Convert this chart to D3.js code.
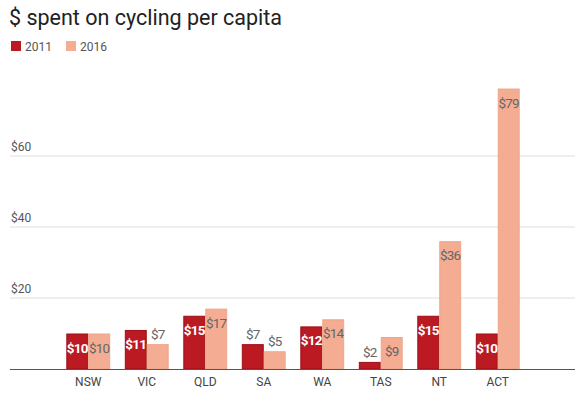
<!DOCTYPE html>
<html>
<head>
<meta charset="utf-8">
<script src="https://cdn.jsdelivr.net/npm/d3@7"></script>
<style>
  body { margin: 0; background: #fff; }
  text { font-family: Roboto, "Open Sans", sans-serif; }
</style>
</head>
<body>
<div id="chart"></div>
<script>
var width = 584;
var height = 397;

var states = ['NSW', 'VIC', 'QLD', 'SA', 'WA', 'TAS', 'NT', 'ACT'];
var years = ['2011', '2016'];
var spend2011 = [10, 11, 15, 7, 12, 2, 15, 10];
var spend2016 = [10, 7, 17, 5, 14, 9, 36, 79];
var yTicks = [20, 40, 60];
var colors = ['#bb1a22', '#f4ad92'];
var strokes = ['#9c0f16', '#efa588'];

var series = [spend2011, spend2016];
var baseY = 369;

var svg = d3.select('#chart')
    .append('svg')
    .attr('width', width)
    .attr('height', height);

svg.append('text')
    .attr('x', 9)
    .attr('y', 25)
    .style('font-size', '21.5px')
    .style('fill', '#222')
    .text('$ spent on cycling per capita');

// legend
var legend = svg.selectAll('.legend')
    .data(years)
    .enter().append('g')
    .attr('transform', function (d, i) { return 'translate(' + (11 + i * 55) + ',41)'; });
legend.append('rect')
    .attr('width', 10)
    .attr('height', 10)
    .style('fill', function (d, i) { return colors[i]; });
legend.append('text')
    .attr('x', 14)
    .attr('y', 10)
    .style('font-size', '12px')
    .style('fill', '#555')
    .text(function (d) { return d; });

var y = d3.scaleLinear().domain([0, 79]).range([baseY, baseY - 79 * 3.55]);
var x0 = d3.scaleBand().domain(states).range([59, 527]).paddingInner(0.25).paddingOuter(0.125);
var x1 = d3.scaleBand().domain(years).range([0, x0.bandwidth()]);

// grid
svg.selectAll('.grid')
    .data(yTicks)
    .enter().append('line')
    .attr('x1', 10)
    .attr('x2', 575)
    .attr('y1', function (d) { return y(d); })
    .attr('y2', function (d) { return y(d); })
    .style('stroke', '#dedede')
    .style('stroke-width', 1);
svg.selectAll('.ytick')
    .data(yTicks)
    .enter().append('text')
    .attr('x', 11)
    .attr('y', function (d) { return y(d) - 5; })
    .style('font-size', '12px')
    .style('fill', '#555')
    .text(function (d) { return '$' + d; });

var groups = svg.selectAll('.state')
    .data(states)
    .enter().append('g')
    .attr('transform', function (d) { return 'translate(' + x0(d) + ',0)'; });

groups.selectAll('rect')
    .data(function (d, i) { return years.map(function (yr, j) { return { yr: yr, j: j, v: series[j][i] }; }); })
    .enter().append('rect')
    .attr('x', function (d) { return x1(d.yr) + 0.5; })
    .attr('y', function (d) { return y(d.v) + 0.5; })
    .attr('width', x1.bandwidth() - 1)
    .attr('height', function (d) { return baseY - y(d.v) - 0.5; })
    .style('fill', function (d) { return colors[d.j]; })
    .style('stroke', function (d) { return strokes[d.j]; })
    .style('stroke-width', 1);

groups.selectAll('.lbl')
    .data(function (d, i) { return years.map(function (yr, j) { return { yr: yr, j: j, v: series[j][i] }; }); })
    .enter().append('text')
    .attr('x', function (d) { return x1(d.yr) + x1.bandwidth() / 2; })
    .attr('y', function (d) { return d.v >= 8 ? y(d.v) + 19 : y(d.v) - 5; })
    .attr('text-anchor', 'middle')
    .style('font-size', '13.5px')
    .style('letter-spacing', '-0.8px')
    .style('font-weight', function (d) { return d.j == 0 && d.v >= 8 ? 'bold' : 'normal'; })
    .style('fill', function (d) { return d.j == 0 && d.v >= 8 ? '#fff' : '#666'; })
    .text(function (d) { return '$' + d.v; });

// axis
svg.append('line')
    .attr('x1', 10)
    .attr('x2', 575)
    .attr('y1', baseY + 0.5)
    .attr('y2', baseY + 0.5)
    .style('stroke', '#555')
    .style('stroke-width', 1);
svg.selectAll('.xlabel')
    .data(states)
    .enter().append('text')
    .attr('x', function (d) { return x0(d) + x0.bandwidth() / 2; })
    .attr('y', 386)
    .attr('text-anchor', 'middle')
    .style('font-size', '12px')
    .style('fill', '#444')
    .text(function (d) { return d; });
</script>
</body>
</html>
